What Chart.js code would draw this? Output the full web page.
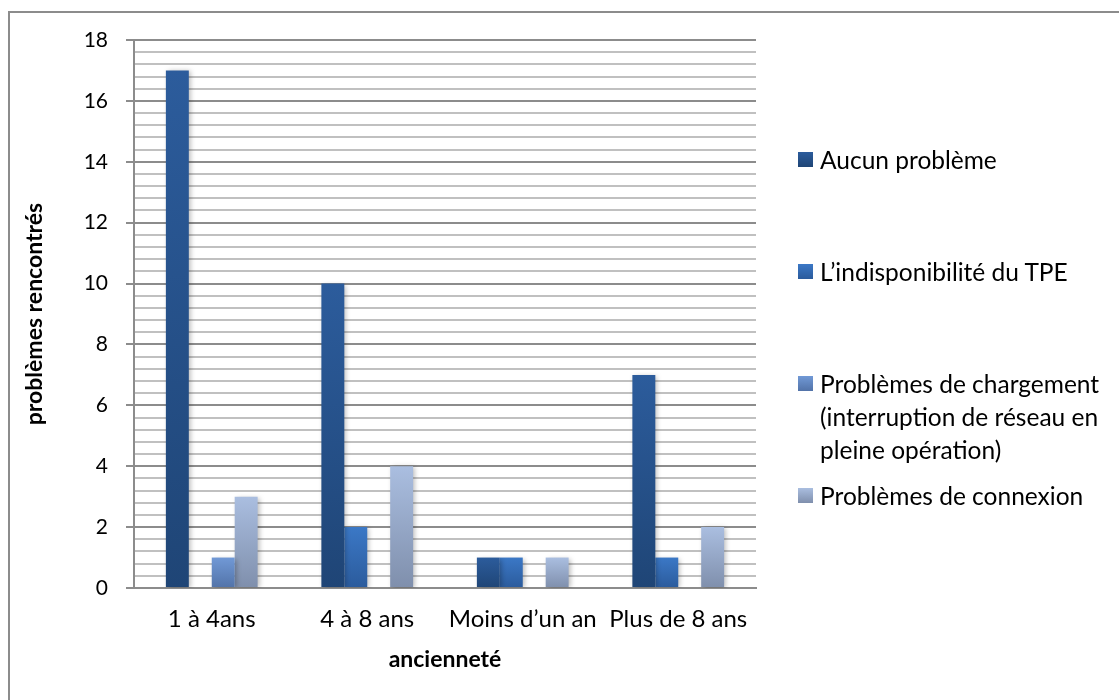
<!DOCTYPE html>
<html lang="fr">
<head>
<meta charset="UTF-8">
<title>Problèmes rencontrés selon l'ancienneté</title>
<script src="https://cdn.jsdelivr.net/npm/chart.js@4.4.0/dist/chart.umd.min.js"></script>
<style>
  html, body { margin: 0; padding: 0; background: #fff; overflow: hidden; }
  #wrap { position: relative; width: 1119px; height: 700px; }
  #frame { position: absolute; left: 8px; top: 11px; width: 1200px; height: 800px; border: 2px solid #8c8c8c; box-sizing: border-box; }
  #legend { position: absolute; left: 798px; top: 143px; font-family: Lato, "Noto Sans", sans-serif; font-size: 24.5px; color: #000; }
  .item { position: relative; height: 112px; padding-left: 22px; line-height: 33px; white-space: nowrap; }
  .sw { position: absolute; left: 0; top: 9px; width: 15px; height: 15px; }
</style>
</head>
<body>
<div id="wrap">
  <div id="frame"></div>
  <canvas id="chart" width="1119" height="700"></canvas>
  <div id="legend"></div>
</div>
<script>
// data
const categories = ['1 à 4ans', '4 à 8 ans', 'Moins d’un an', 'Plus de 8 ans'];
const aucunProbleme = [17, 10, 1, 7];
const indisponibilite = [0, 2, 1, 1];
const chargement = [1, 0, 0, 0];
const connexion = [3, 4, 1, 2];
const seriesNames = [
  ['Aucun problème'],
  ['L’indisponibilité du TPE'],
  ['Problèmes de chargement', '(interruption de réseau en', 'pleine opération)'],
  ['Problèmes de connexion']
];
const yTicks = [0, 2, 4, 6, 8, 10, 12, 14, 16, 18];

// top / bottom colours of each series gradient
const shades = [
  ['#2c5c9c', '#1f4576'],
  ['#3b78c6', '#2b5b9c'],
  ['#7199d6', '#5273a8'],
  ['#aabee0', '#7f8fac']
];

function barFill(idx) {
  return function (ctx) {
    const chart = ctx.chart;
    const y = chart.scales.y;
    if (!chart.chartArea || !y || ctx.raw == null) return shades[idx][1];
    const top = y.getPixelForValue(ctx.raw);
    const bottom = y.getPixelForValue(0);
    if (!isFinite(top) || bottom - top < 1) return shades[idx][1];
    const g = chart.ctx.createLinearGradient(0, top, 0, bottom);
    g.addColorStop(0, shades[idx][0]);
    g.addColorStop(1, shades[idx][1]);
    return g;
  };
}

const isMajor = v => Math.abs(v / 2 - Math.round(v / 2)) < 1e-6;

const shadow = {
  id: 'shadow',
  beforeDatasetsDraw(chart) {
    const c = chart.ctx;
    c.save();
    c.shadowColor = 'rgba(0,0,0,0.28)';
    c.shadowBlur = 5;
    c.shadowOffsetX = 2;
    c.shadowOffsetY = 1;
  },
  afterDatasetsDraw(chart) { chart.ctx.restore(); }
};

const allValues = [aucunProbleme, indisponibilite, chargement, connexion];

const chart = new Chart(document.getElementById('chart'), {
  type: 'bar',
  data: {
    labels: categories,
    datasets: allValues.map((vals, i) => ({
      label: seriesNames[i].join(' '),
      data: vals,
      backgroundColor: barFill(i),
      borderWidth: 0,
      categoryPercentage: 0.59,
      barPercentage: 1
    }))
  },
  options: {
    responsive: false,
    animation: false,
    layout: { padding: { left: 12, top: 40, right: 363, bottom: 22 } },
    plugins: { legend: { display: false }, tooltip: { enabled: false } },
    scales: {
      x: {
        grid: { display: false, drawTicks: false },
        border: { display: true, color: '#8c8c8c', width: 2 },
        ticks: { padding: 17, color: '#000', maxRotation: 0, font: { family: 'Lato', size: 24 } },
        title: {
          display: true, text: 'ancienneté', color: '#000',
          font: { family: 'Lato', size: 23, weight: 'bold' },
          padding: { top: 0, bottom: 5 }
        },
        afterFit(s) { s.height = 90; }
      },
      y: {
        min: 0, max: 18,
        ticks: {
          stepSize: 0.4, autoSkip: false, padding: 18, color: '#000',
          font: { family: 'Lato', size: 21 },
          callback: v => (isMajor(v) && yTicks.includes(Math.round(v)) ? Math.round(v) : '')
        },
        grid: {
          lineWidth: 2,
          tickLength: 8,
          color: c => (isMajor(c.tick.value) ? '#8c8c8c' : '#c0c0c0'),
          tickColor: c => (isMajor(c.tick.value) ? '#8c8c8c' : 'rgba(0,0,0,0)')
        },
        border: { display: true, color: '#8c8c8c', width: 2 },
        title: {
          display: true, text: 'problèmes rencontrés', color: '#000',
          font: { family: 'Lato', size: 23, weight: 'bold' },
          padding: { top: 9, bottom: 0 }
        },
        afterFit(s) { s.width = 122; }
      }
    }
  },
  plugins: [shadow]
});

// html legend built from the datasets
const legend = document.getElementById('legend');
chart.data.datasets.forEach((ds, i) => {
  const item = document.createElement('div');
  item.className = 'item';
  const sw = document.createElement('span');
  sw.className = 'sw';
  sw.style.background = 'linear-gradient(' + shades[i][0] + ',' + shades[i][1] + ')';
  item.appendChild(sw);
  seriesNames[i].forEach((line, k) => {
    if (k) item.appendChild(document.createElement('br'));
    item.appendChild(document.createTextNode(line));
  });
  legend.appendChild(item);
});
</script>
</body>
</html>
